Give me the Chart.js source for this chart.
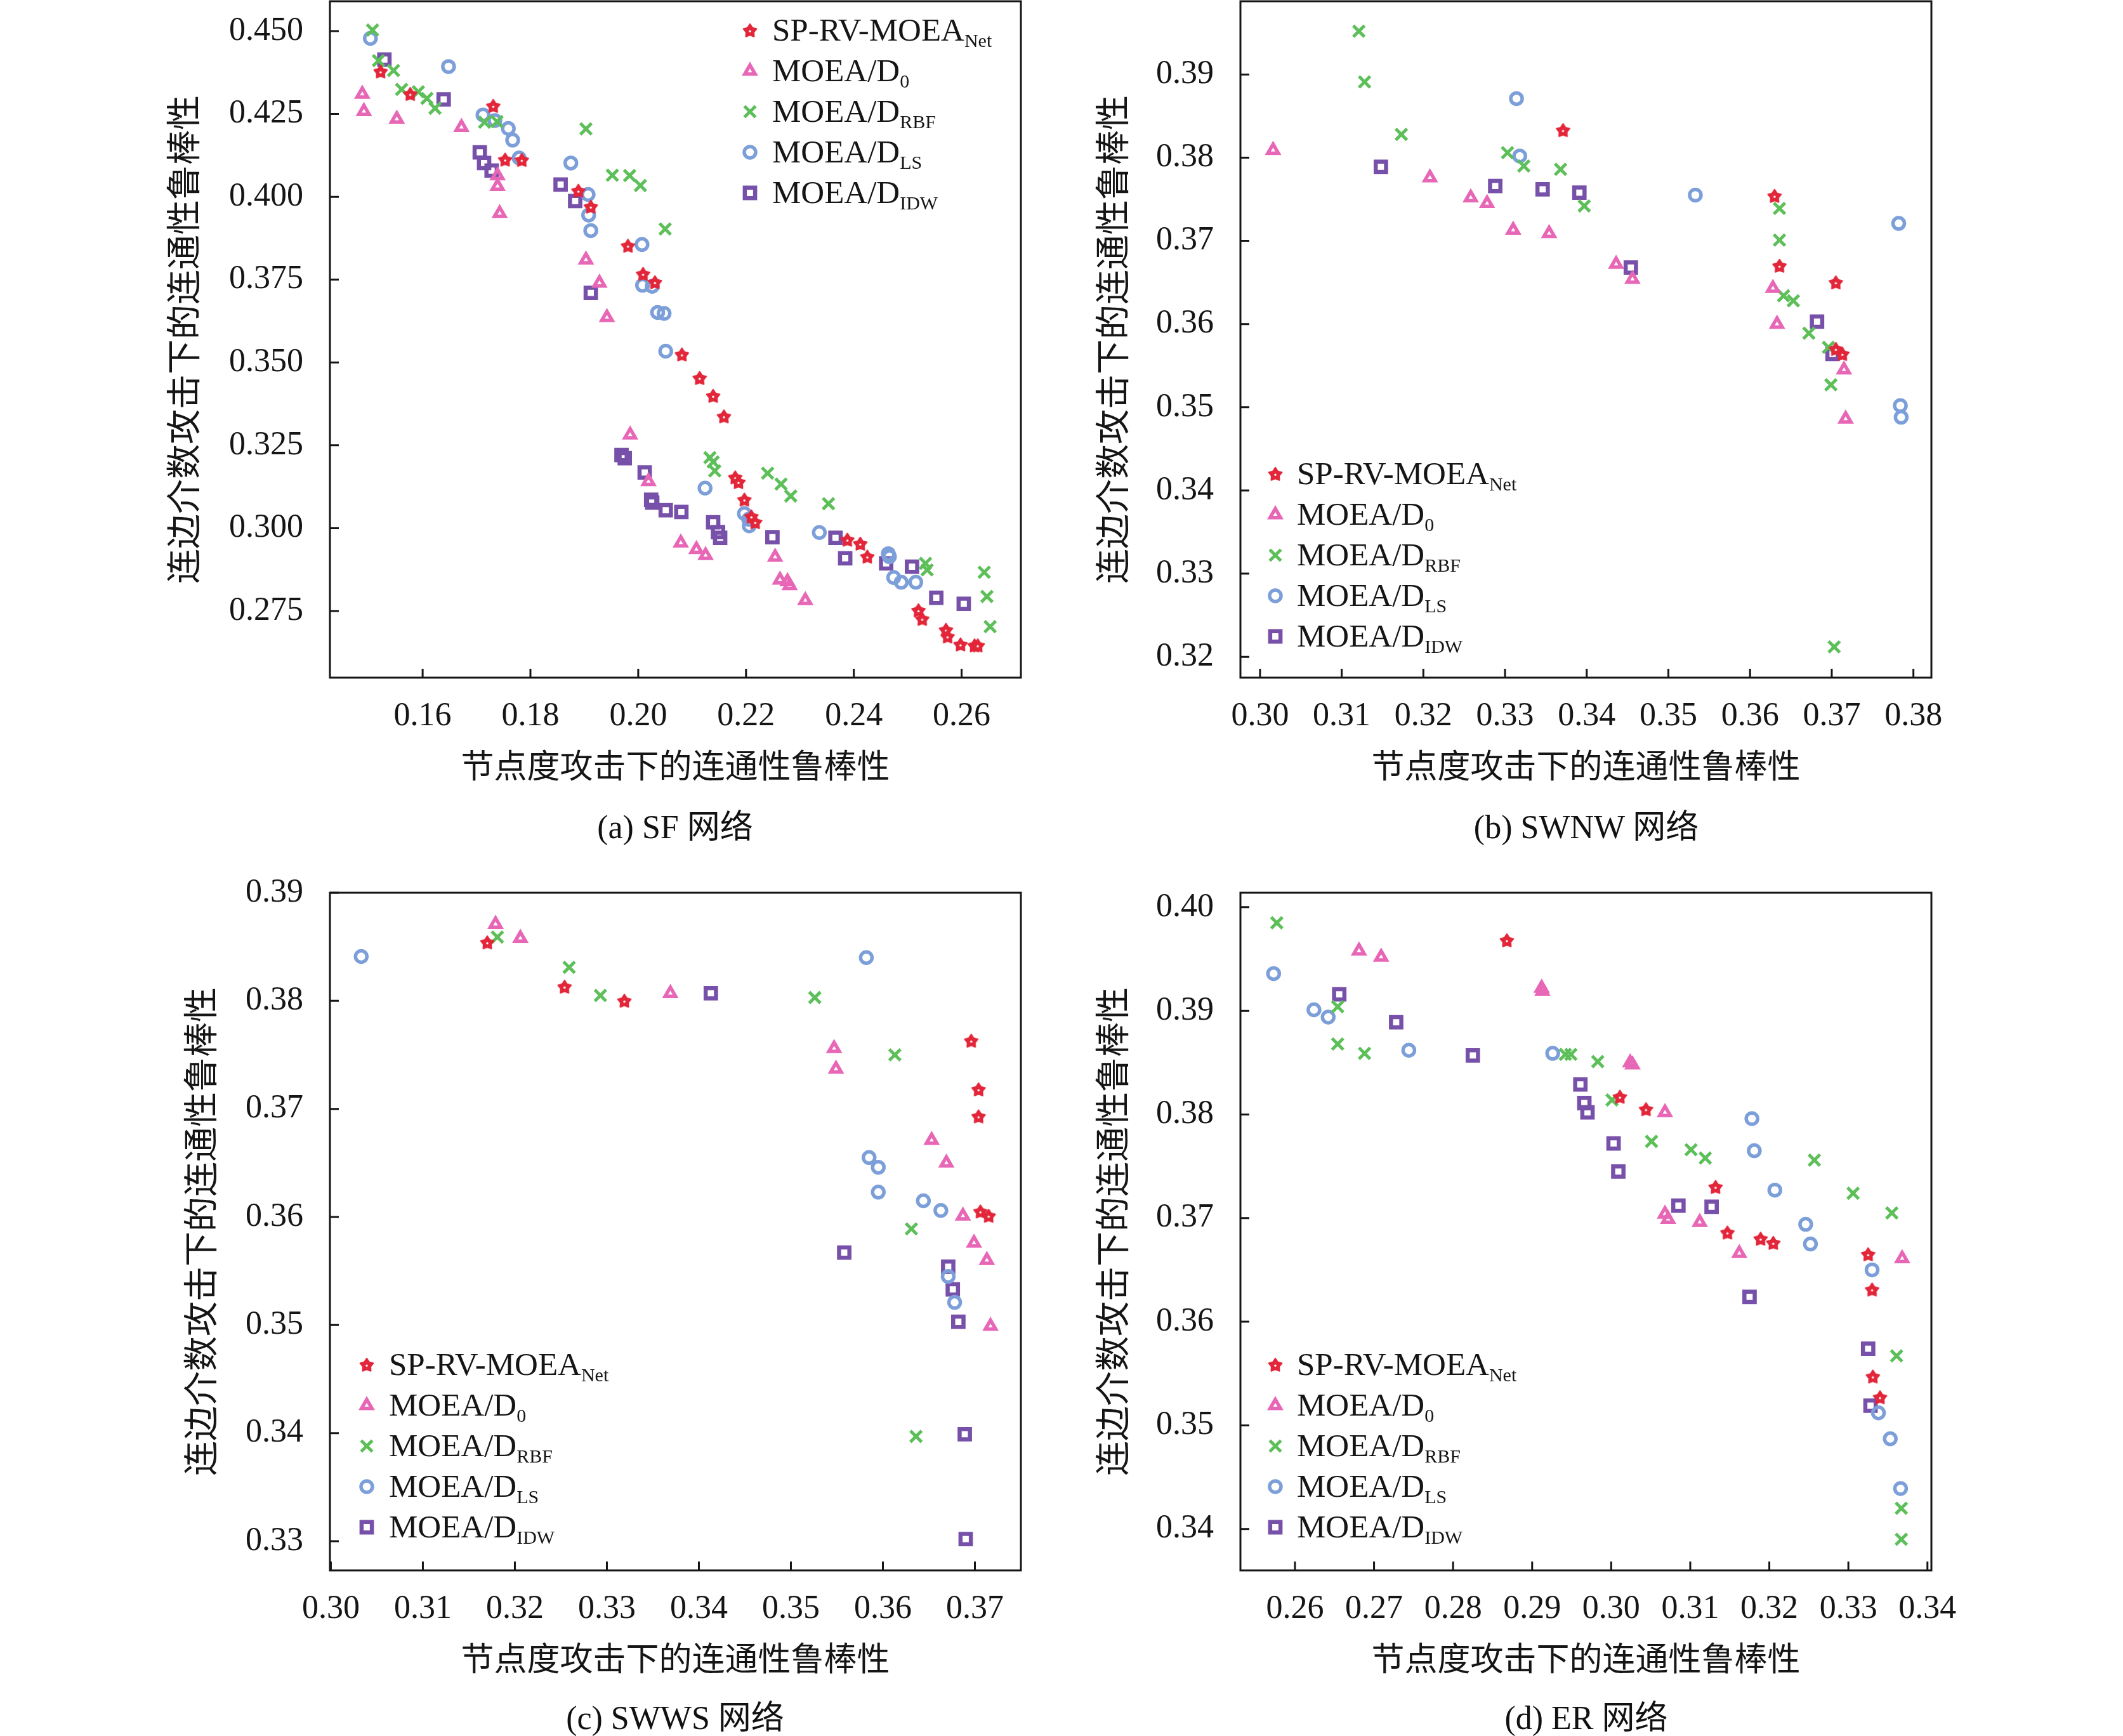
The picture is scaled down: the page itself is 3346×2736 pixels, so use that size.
<!DOCTYPE html>
<html lang="zh">
<head>
  <meta charset="UTF-8">
  <title>连通性鲁棒性</title>
  <script src="https://cdn.jsdelivr.net/npm/chart.js"></script>
  <style>
    body { margin: 0; background: #fff; }
    #page { position: relative; width: 3346px; height: 2736px; overflow: hidden; background: #fff; }
    #page canvas { position: absolute; }
    .caption {
      position: absolute; width: 800px; text-align: center;
      font-family: "Liberation Serif", "Noto Sans CJK SC", serif;
      font-size: 52px; line-height: 60px; color: #111;
    }
  </style>
</head>
<body>

<div id="page">
  <canvas id="chart-sf"></canvas>
  <canvas id="chart-swnw"></canvas>
  <canvas id="chart-swws"></canvas>
  <canvas id="chart-er"></canvas>
  <div class="caption" style="left:664px;top:1274px">(a) SF 网络</div>
  <div class="caption" style="left:2100px;top:1274px">(b) SWNW 网络</div>
  <div class="caption" style="left:664px;top:2678px">(c) SWWS 网络</div>
  <div class="caption" style="left:2100px;top:2678px">(d) ER 网络</div>
</div>

<script>
  // series names (main part + subscript)
  const seriesNames = ['SP-RV-MOEA', 'MOEA/D', 'MOEA/D', 'MOEA/D', 'MOEA/D'];
  const seriesSubs = ['Net', '0', 'RBF', 'LS', 'IDW'];
  const xTitle = '节点度攻击下的连通性鲁棒性';
  const yTitle = '连边介数攻击下的连通性鲁棒性';

  // tick labels
  const xTicksSF = [0.16, 0.18, 0.20, 0.22, 0.24, 0.26];
  const yTicksSF = [0.275, 0.300, 0.325, 0.350, 0.375, 0.400, 0.425, 0.450];
  const xTicksSWNW = [0.30, 0.31, 0.32, 0.33, 0.34, 0.35, 0.36, 0.37, 0.38];
  const yTicksSWNW = [0.32, 0.33, 0.34, 0.35, 0.36, 0.37, 0.38, 0.39];
  const xTicksSWWS = [0.30, 0.31, 0.32, 0.33, 0.34, 0.35, 0.36, 0.37];
  const yTicksSWWS = [0.33, 0.34, 0.35, 0.36, 0.37, 0.38, 0.39];
  const xTicksER = [0.26, 0.27, 0.28, 0.29, 0.30, 0.31, 0.32, 0.33, 0.34];
  const yTicksER = [0.34, 0.35, 0.36, 0.37, 0.38, 0.39, 0.40];

  // (a) SF
  const sfSP = [[0.1522,0.4378],[0.1577,0.4310],[0.1731,0.4274],[0.1753,0.4112],[0.1784,0.4111],[0.1889,0.4018],[0.1912,0.3970],[0.1981,0.3852],[0.2009,0.3767],[0.2031,0.3742],[0.2081,0.3524],[0.2114,0.3453],[0.2139,0.3399],[0.2159,0.3337],[0.2180,0.3153],[0.2186,0.3139],[0.2197,0.3086],[0.2210,0.3035],[0.2217,0.3018],[0.2388,0.2965],[0.2412,0.2953],[0.2425,0.2914],[0.2520,0.2752],[0.2527,0.2726],[0.2571,0.2693],[0.2574,0.2673],[0.2598,0.2649],[0.2624,0.2646],[0.2630,0.2646]];
  const sfD0 = [[0.1488,0.4310],[0.1491,0.4258],[0.1552,0.4235],[0.1672,0.4210],[0.1739,0.4064],[0.1739,0.4032],[0.1743,0.3950],[0.1903,0.3810],[0.1928,0.3740],[0.1942,0.3636],[0.1985,0.3282],[0.2019,0.3141],[0.2079,0.2956],[0.2108,0.2936],[0.2125,0.2918],[0.2254,0.2913],[0.2263,0.2844],[0.2277,0.2839],[0.2281,0.2827],[0.2310,0.2782]];
  const sfRBF = [[0.1507,0.4503],[0.1518,0.4411],[0.1546,0.4381],[0.1561,0.4324],[0.1592,0.4317],[0.1608,0.4297],[0.1623,0.4267],[0.1715,0.4225],[0.1738,0.4227],[0.1903,0.4205],[0.1952,0.4065],[0.1984,0.4064],[0.2004,0.4034],[0.2050,0.3903],[0.2133,0.3213],[0.2139,0.3200],[0.2142,0.3173],[0.2240,0.3166],[0.2265,0.3133],[0.2283,0.3097],[0.2353,0.3074],[0.2533,0.2894],[0.2536,0.2874],[0.2642,0.2867],[0.2647,0.2794],[0.2653,0.2703]];
  const sfLS = [[0.1503,0.4478],[0.1648,0.4393],[0.1712,0.4247],[0.1734,0.4230],[0.1759,0.4206],[0.1767,0.4171],[0.1779,0.4117],[0.1875,0.4102],[0.1907,0.4007],[0.1908,0.3945],[0.1912,0.3898],[0.2007,0.3856],[0.2008,0.3733],[0.2026,0.3730],[0.2036,0.3651],[0.2048,0.3648],[0.2051,0.3534],[0.2124,0.3121],[0.2197,0.3044],[0.2205,0.3027],[0.2206,0.3007],[0.2336,0.2987],[0.2464,0.2923],[0.2466,0.2914],[0.2474,0.2851],[0.2488,0.2837],[0.2515,0.2837]];
  const sfIDW = [[0.1529,0.4414],[0.1639,0.4294],[0.1706,0.4134],[0.1714,0.4102],[0.1728,0.4079],[0.1856,0.4037],[0.1883,0.3987],[0.1912,0.3710],[0.1969,0.3221],[0.1975,0.3211],[0.2012,0.3168],[0.2024,0.3086],[0.2026,0.3077],[0.2051,0.3054],[0.2080,0.3049],[0.2139,0.3018],[0.2148,0.2988],[0.2152,0.2971],[0.2249,0.2973],[0.2366,0.2971],[0.2384,0.2909],[0.2460,0.2894],[0.2508,0.2884],[0.2553,0.2790],[0.2604,0.2772]];

  // (b) SWNW
  const swnwSP = [[0.3371,0.3833],[0.3630,0.3754],[0.3636,0.3670],[0.3705,0.3650],[0.3705,0.3570],[0.3713,0.3564]];
  const swnwD0 = [[0.3016,0.3809],[0.3208,0.3776],[0.3258,0.3752],[0.3278,0.3745],[0.3310,0.3713],[0.3354,0.3709],[0.3436,0.3672],[0.3456,0.3654],[0.3628,0.3643],[0.3633,0.3600],[0.3715,0.3545],[0.3717,0.3486]];
  const swnwRBF = [[0.3121,0.3952],[0.3128,0.3891],[0.3173,0.3828],[0.3303,0.3806],[0.3323,0.3790],[0.3368,0.3786],[0.3397,0.3742],[0.3636,0.3739],[0.3636,0.3701],[0.3641,0.3634],[0.3653,0.3628],[0.3672,0.3589],[0.3696,0.3572],[0.3699,0.3527],[0.3703,0.3212]];
  const swnwLS = [[0.3314,0.3871],[0.3318,0.3802],[0.3533,0.3755],[0.3782,0.3721],[0.3784,0.3502],[0.3785,0.3488]];
  const swnwIDW = [[0.3148,0.3789],[0.3288,0.3766],[0.3346,0.3762],[0.3391,0.3758],[0.3454,0.3668],[0.3682,0.3603],[0.3701,0.3564]];

  // (c) SWWS
  const swwsSP = [[0.3170,0.3854],[0.3254,0.3813],[0.3319,0.3800],[0.3696,0.3763],[0.3704,0.3718],[0.3704,0.3693],[0.3706,0.3605],[0.3715,0.3601]];
  const swwsD0 = [[0.3179,0.3871],[0.3206,0.3858],[0.3369,0.3807],[0.3547,0.3756],[0.3549,0.3737],[0.3653,0.3671],[0.3669,0.3650],[0.3687,0.3601],[0.3699,0.3576],[0.3713,0.3560],[0.3717,0.3499]];
  const swwsRBF = [[0.3181,0.3859],[0.3259,0.3831],[0.3293,0.3805],[0.3526,0.3803],[0.3613,0.3750],[0.3631,0.3589],[0.3636,0.3397]];
  const swwsLS = [[0.3033,0.3841],[0.3582,0.3840],[0.3585,0.3655],[0.3595,0.3646],[0.3595,0.3623],[0.3644,0.3615],[0.3663,0.3606],[0.3671,0.3545],[0.3678,0.3521]];
  const swwsIDW = [[0.3413,0.3807],[0.3558,0.3567],[0.3671,0.3554],[0.3676,0.3533],[0.3682,0.3503],[0.3689,0.3399],[0.3690,0.3302]];

  // (d) ER
  const erSP = [[0.2868,0.3968],[0.3011,0.3817],[0.3044,0.3805],[0.3132,0.3730],[0.3147,0.3686],[0.3189,0.3680],[0.3205,0.3676],[0.3325,0.3665],[0.3330,0.3631],[0.3331,0.3547],[0.3340,0.3527]];
  const erD0 = [[0.2681,0.3958],[0.2709,0.3952],[0.2912,0.3922],[0.2913,0.3919],[0.3024,0.3850],[0.3027,0.3848],[0.3068,0.3802],[0.3068,0.3704],[0.3072,0.3699],[0.3112,0.3696],[0.3162,0.3666],[0.3368,0.3661]];
  const erRBF = [[0.2577,0.3985],[0.2654,0.3904],[0.2654,0.3868],[0.2688,0.3859],[0.2942,0.3858],[0.2949,0.3858],[0.2983,0.3851],[0.3001,0.3814],[0.3051,0.3774],[0.3101,0.3766],[0.3119,0.3758],[0.3257,0.3756],[0.3306,0.3724],[0.3355,0.3705],[0.3361,0.3567],[0.3367,0.3420],[0.3367,0.3390]];
  const erLS = [[0.2573,0.3936],[0.2624,0.3901],[0.2642,0.3894],[0.2744,0.3862],[0.2926,0.3859],[0.3178,0.3796],[0.3181,0.3765],[0.3207,0.3727],[0.3246,0.3694],[0.3252,0.3675],[0.3330,0.3650],[0.3338,0.3512],[0.3353,0.3487],[0.3366,0.3439]];
  const erIDW = [[0.2656,0.3916],[0.2728,0.3889],[0.2825,0.3857],[0.2961,0.3829],[0.2966,0.3811],[0.2970,0.3802],[0.3003,0.3772],[0.3009,0.3745],[0.3085,0.3712],[0.3127,0.3711],[0.3175,0.3624],[0.3325,0.3574],[0.3328,0.3519]];

  const FONT = '"Liberation Serif", "Noto Sans CJK SC", serif';
  const INK = '#151515';
  const colors = ['#e3263a', '#e866b6', '#5cbf58', '#7c9fda', '#7751a9'];

  // chunky filled five-point star used for SP-RV-MOEA
  function starImage(color) {
    const c = document.createElement('canvas');
    c.width = 28; c.height = 28;
    const g = c.getContext('2d');
    g.fillStyle = color;
    g.strokeStyle = color;
    g.lineWidth = 2;
    g.lineJoin = 'round';
    g.beginPath();
    for (let k = 0; k < 10; k++) {
      const r = k % 2 ? 6.4 : 11;
      const ang = -Math.PI / 2 + k * Math.PI / 5;
      g.lineTo(14 + r * Math.cos(ang), 14.8 + r * Math.sin(ang));
    }
    g.closePath();
    g.fill();
    g.stroke();
    g.fillStyle = '#fff';
    g.beginPath();
    g.arc(14, 15.2, 1.7, 0, Math.PI * 2);
    g.fill();
    return c;
  }

  const markers = [
    { style: starImage(colors[0]), radius: 12, border: 0 },
    { style: 'triangle', radius: 9.5, border: 5.5 },
    { style: 'crossRot', radius: 12.5, border: 5 },
    { style: 'circle', radius: 9, border: 5.5 },
    { style: 'rect', radius: 11.5, border: 6.5 }
  ];

  // box + inward ticks
  const framePlugin = {
    id: 'frame',
    afterDraw(chart) {
      const { ctx, chartArea: a, scales } = chart;
      ctx.save();
      ctx.strokeStyle = INK;
      ctx.lineWidth = 3;
      ctx.strokeRect(a.left, a.top, a.right - a.left, a.bottom - a.top);
      ctx.beginPath();
      scales.x.ticks.forEach(t => {
        const p = scales.x.getPixelForValue(t.value);
        ctx.moveTo(p, a.bottom); ctx.lineTo(p, a.bottom - 14);
      });
      scales.y.ticks.forEach(t => {
        const p = scales.y.getPixelForValue(t.value);
        ctx.moveTo(a.left, p); ctx.lineTo(a.left + 14, p);
      });
      ctx.stroke();
      ctx.restore();
    }
  };

  // legend with subscripts
  const subLegendPlugin = {
    id: 'subLegend',
    afterDraw(chart, args, opts) {
      const { ctx, chartArea: a } = chart;
      chart.data.datasets.forEach((ds, i) => {
        const cy = a.top + opts.y + i * 64;
        const m = markers[i];
        ctx.save();
        ctx.strokeStyle = colors[i];
        ctx.fillStyle = 'rgba(0,0,0,0)';
        ctx.lineWidth = m.border;
        Chart.helpers.drawPoint(ctx, { pointStyle: m.style, radius: m.radius, borderWidth: m.border, rotation: 0 }, a.left + opts.x, cy);
        ctx.restore();

        ctx.save();
        ctx.fillStyle = INK;
        ctx.textBaseline = 'alphabetic';
        ctx.textAlign = 'left';
        const tx = a.left + opts.tx;
        const base = cy + 16;
        ctx.font = '51px ' + FONT;
        ctx.fillText(seriesNames[i], tx, base);
        const w = ctx.measureText(seriesNames[i]).width;
        ctx.font = '30px ' + FONT;
        ctx.fillText(seriesSubs[i], tx + w, base + 10);
        ctx.restore();
      });
    }
  };

  function makeAxis(min, max, ticks, digits, isX, size) {
    return {
      type: 'linear',
      position: isX ? 'bottom' : 'left',
      min: min,
      max: max,
      afterBuildTicks: s => { s.ticks = ticks.map(v => ({ value: v })); },
      afterFit: s => {
        if (isX) s.height = size; else s.width = size;
        // keep the plot box where it is: no extra room for edge labels
        s.paddingTop = 0; s.paddingBottom = 0; s.paddingLeft = 0; s.paddingRight = 0;
      },
      grid: { display: false, drawTicks: false },
      border: { display: false },
      ticks: {
        autoSkip: false, maxRotation: 0,
        padding: isX ? 30 : 42,
        color: INK,
        font: { family: FONT, size: 52 },
        callback: v => Number(v).toFixed(digits)
      },
      title: {
        display: true,
        text: isX ? xTitle : yTitle,
        color: INK,
        padding: 0,
        font: { family: FONT, size: isX ? 52 : 55, lineHeight: 1.2 }
      }
    };
  }

  function createPanel(p) {
    const padTop = p.padTop, padRight = 80, xh = 176;
    const canvas = document.getElementById(p.id);
    canvas.width = (p.R - p.L) + p.yw + padRight;
    canvas.height = (p.B - p.T) + padTop + xh;
    canvas.style.left = (p.L - p.yw) + 'px';
    canvas.style.top = (p.T - padTop) + 'px';
    canvas.style.width = canvas.width + 'px';
    canvas.style.height = canvas.height + 'px';

    const datasets = p.series.map((pts, i) => ({
      label: seriesNames[i] + seriesSubs[i],
      data: pts.map(([x, y]) => ({ x, y })),
      pointStyle: markers[i].style,
      pointRadius: markers[i].radius,
      pointHoverRadius: markers[i].radius,
      pointBorderWidth: markers[i].border,
      borderColor: colors[i],
      backgroundColor: 'rgba(0,0,0,0)',
      showLine: false
    }));

    return new Chart(canvas.getContext('2d'), {
      type: 'scatter',
      data: { datasets },
      options: {
        responsive: false,
        animation: false,
        devicePixelRatio: 1,
        layout: { autoPadding: false, padding: { top: padTop, right: padRight, left: 0, bottom: 0 } },
        scales: {
          x: makeAxis(p.xRange[0], p.xRange[1], p.xTicks, p.xd, true, xh),
          y: makeAxis(p.yRange[0], p.yRange[1], p.yTicks, p.yd, false, p.yw)
        },
        plugins: {
          legend: { display: false },
          tooltip: { enabled: false },
          subLegend: p.legend
        }
      },
      plugins: [framePlugin, subLegendPlugin]
    });
  }

  createPanel({ id: 'chart-sf', L: 520, T: 2, R: 1609, B: 1068, yw: 258, padTop: 2,
    xRange: [0.1428, 0.2710], yRange: [0.2549, 0.4590], xTicks: xTicksSF, yTicks: yTicksSF, xd: 2, yd: 3,
    legend: { x: 662, tx: 697, y: 46 }, series: [sfSP, sfD0, sfRBF, sfLS, sfIDW] });

  createPanel({ id: 'chart-swnw', L: 1955, T: 2, R: 3044, B: 1068, yw: 229, padTop: 2,
    xRange: [0.2976, 0.3822], yRange: [0.3175, 0.3988], xTicks: xTicksSWNW, yTicks: yTicksSWNW, xd: 2, yd: 2,
    legend: { x: 55, tx: 89, y: 745 }, series: [swnwSP, swnwD0, swnwRBF, swnwLS, swnwIDW] });

  createPanel({ id: 'chart-swws', L: 520, T: 1407, R: 1609, B: 2475, yw: 231, padTop: 50,
    xRange: [0.2999, 0.3750], yRange: [0.3273, 0.3900], xTicks: xTicksSWWS, yTicks: yTicksSWWS, xd: 2, yd: 2,
    legend: { x: 58, tx: 93, y: 744 }, series: [swwsSP, swwsD0, swwsRBF, swwsLS, swwsIDW] });

  createPanel({ id: 'chart-er', L: 1955, T: 1407, R: 3044, B: 2475, yw: 229, padTop: 50,
    xRange: [0.2531, 0.3405], yRange: [0.3360, 0.4014], xTicks: xTicksER, yTicks: yTicksER, xd: 2, yd: 2,
    legend: { x: 55, tx: 89, y: 744 }, series: [erSP, erD0, erRBF, erLS, erIDW] });
</script>

</body>
</html>
